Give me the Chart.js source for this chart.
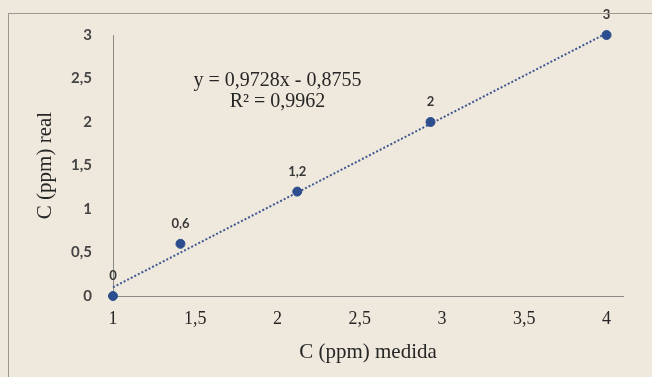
<!DOCTYPE html>
<html>
<head>
<meta charset="utf-8">
<script src="https://cdn.jsdelivr.net/npm/chart.js@4/dist/chart.umd.min.js"></script>
<style>
  html, body { margin: 0; padding: 0; background: #efe9dd; }
  #wrap { position: relative; width: 652px; height: 377px; }
  #frame { position: absolute; left: 8px; top: 13px; right: 0; bottom: 0;
           border-left: 1px solid #9c978d; border-top: 1px solid #9c978d; pointer-events: none; }
</style>
</head>
<body>
<div id="wrap">
  <canvas id="chart" width="652" height="377"></canvas>
  <div id="frame"></div>
</div>
<script>
// valeurs
const measured = [1, 1.41, 2.12, 2.93, 4];      // C (ppm) medida
const real = [0, 0.6, 1.2, 2, 3];               // C (ppm) real
const trendX = [1, 4];
const trendY = [0.1, 3.02];
const equationText = ['y = 0,9728x - 0,8755', 'R\u00b2 = 0,9962'];
const equationPos = [2.0, 2.47];                // ancre en coordonnées des données
const xTicks = [1, 1.5, 2, 2.5, 3, 3.5, 4];
const yTicks = [0, 0.5, 1, 1.5, 2, 2.5, 3];

const fmt = v => String(v).replace('.', ',');

// étiquettes de points + équation de la tendance
const labelsPlugin = {
  id: 'labels',
  afterDatasetsDraw(chart) {
    const ctx = chart.ctx;
    const meta = chart.getDatasetMeta(0);
    ctx.save();
    ctx.fillStyle = '#383838';
    ctx.font = 'bold 13px Lato';
    ctx.textAlign = 'center';
    ctx.textBaseline = 'middle';
    meta.data.forEach((pt, i) => {
      ctx.fillText(fmt(real[i]), pt.x, pt.y - 20);
    });
    const xs = chart.scales.x, ys = chart.scales.y;
    const ex = xs.getPixelForValue(equationPos[0]);
    const ey = ys.getPixelForValue(equationPos[1]);
    ctx.fillStyle = '#262626';
    ctx.font = '20px "Liberation Serif"';
    ctx.fillText(equationText[0], ex, ey);
    ctx.fillText(equationText[1], ex, ey + 21);
    ctx.restore();
  }
};

new Chart(document.getElementById('chart'), {
  type: 'scatter',
  data: {
    datasets: [{
      data: measured.map((x, i) => ({ x: x, y: real[i] })),
      backgroundColor: '#2c4d8e',
      borderColor: '#2c4d8e',
      pointRadius: 4.5,
      pointHoverRadius: 4.5,
      clip: false,
      order: 0
    }, {
      type: 'line',
      data: trendX.map((x, i) => ({ x: x, y: trendY[i] })),
      borderColor: '#3f5791',
      borderWidth: 2,
      borderDash: [2, 2],
      pointRadius: 0,
      fill: false,
      clip: false,
      order: 1
    }]
  },
  options: {
    responsive: false,
    animation: false,
    events: [],
    layout: { padding: { left: 0, top: 35, right: 29, bottom: 0 } },
    plugins: {
      legend: { display: false },
      tooltip: { enabled: false }
    },
    scales: {
      x: {
        type: 'linear',
        min: 1,
        max: 4.1,
        afterBuildTicks: s => { s.ticks = xTicks.map(v => ({ value: v })); },
        afterFit: s => { s.height = 81; },
        grid: { display: false, drawTicks: false },
        border: { display: true, color: '#8c8a85', width: 1 },
        ticks: {
          padding: 12,
          color: '#262626',
          font: { family: 'Liberation Serif', size: 18 },
          callback: v => fmt(v)
        },
        title: {
          display: true,
          text: 'C (ppm) medida',
          color: '#262626',
          font: { family: 'Liberation Serif', size: 21 },
          padding: { top: 0, bottom: 12 }
        }
      },
      y: {
        min: 0,
        max: 3,
        afterBuildTicks: s => { s.ticks = yTicks.map(v => ({ value: v })); },
        afterFit: s => { s.width = 113; },
        grid: { display: false, drawTicks: false },
        border: { display: true, color: '#8c8a85', width: 1 },
        ticks: {
          padding: 21,
          color: '#454545',
          font: { family: 'Lato', size: 15, weight: 'bold' },
          callback: v => fmt(v)
        },
        title: {
          display: true,
          text: 'C (ppm) real',
          color: '#262626',
          font: { family: 'Liberation Serif', size: 21 },
          padding: { top: 33, bottom: 0 }
        }
      }
    }
  },
  plugins: [labelsPlugin]
});
</script>
</body>
</html>
